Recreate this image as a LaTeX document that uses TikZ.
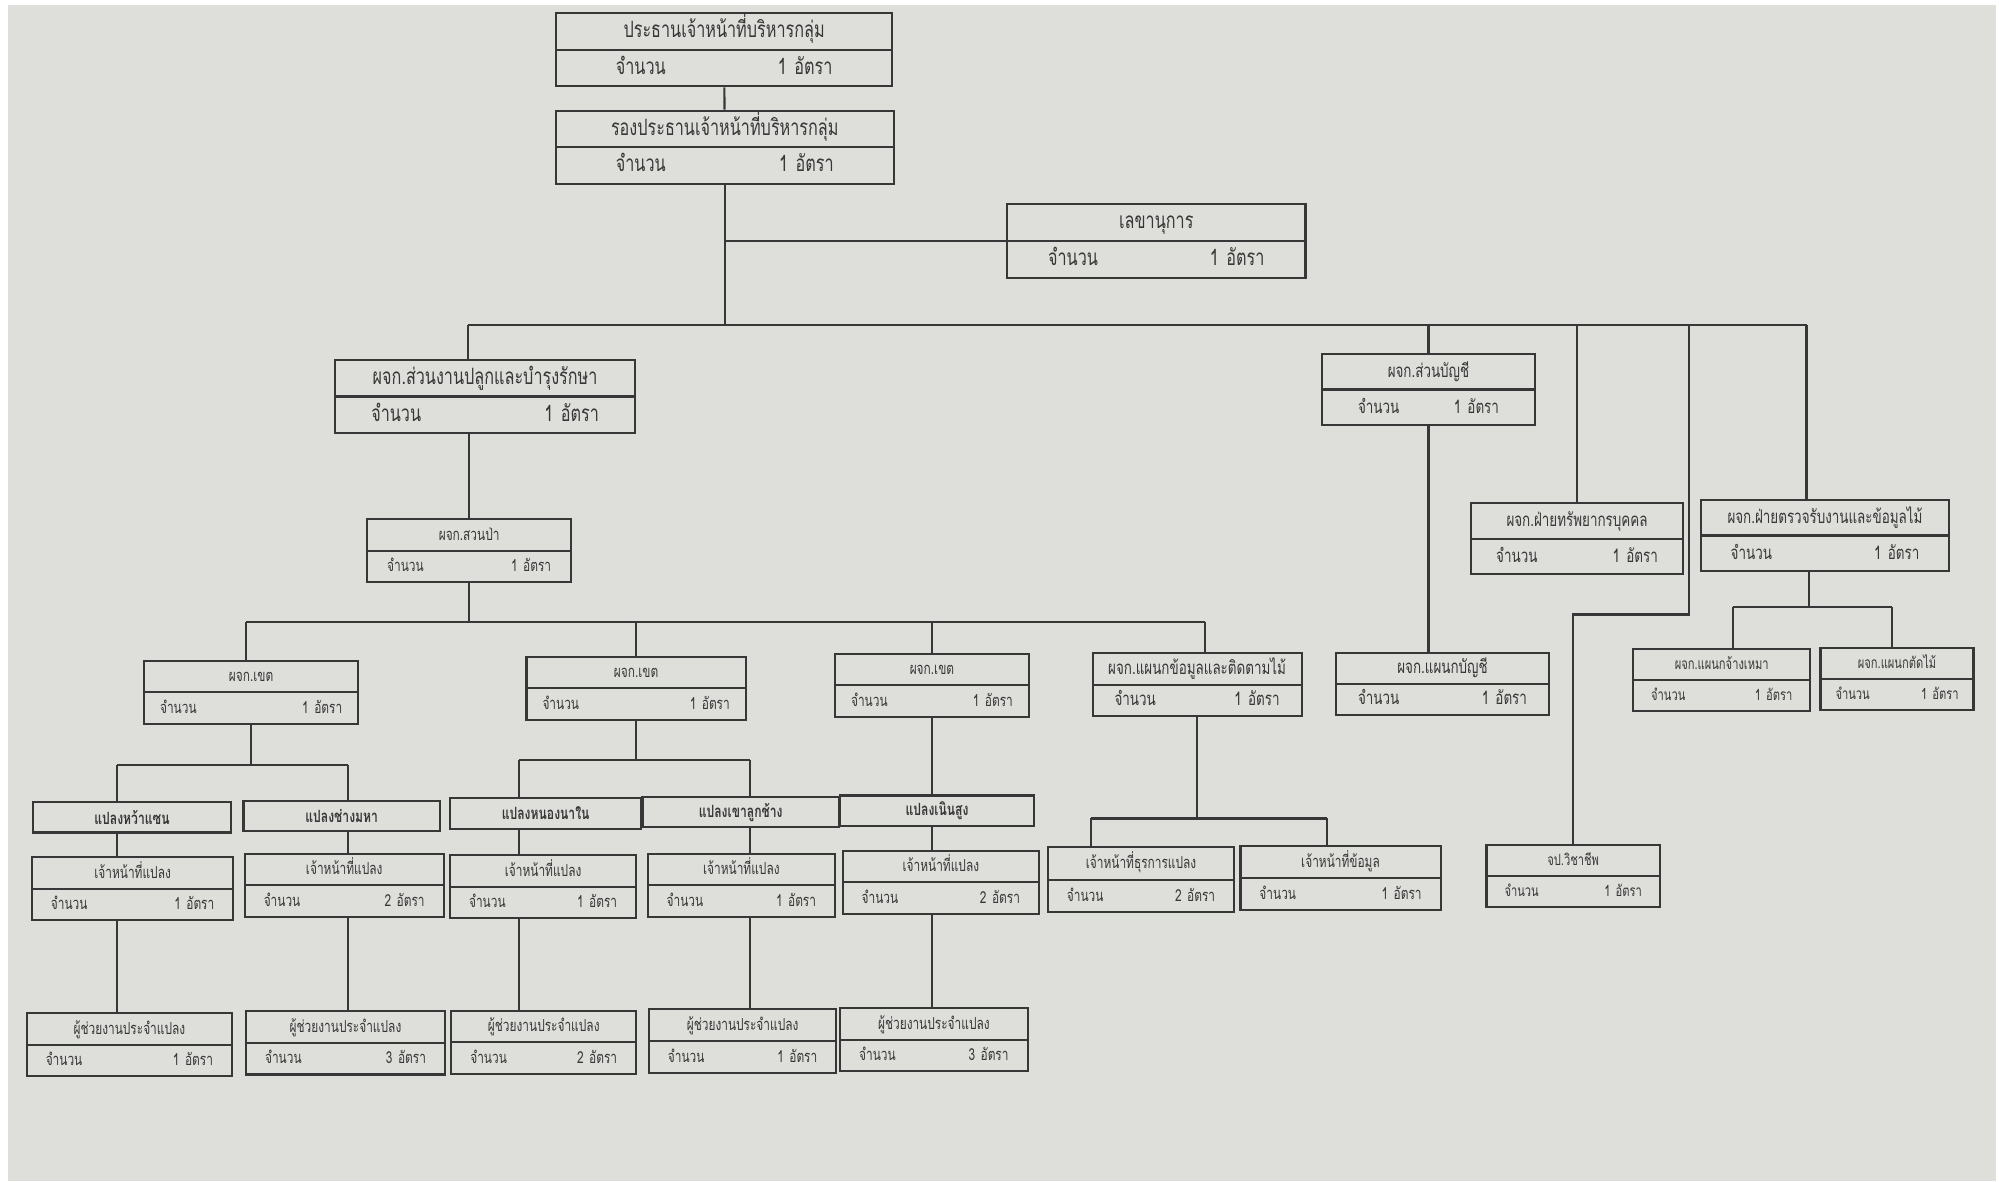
\documentclass[tikz,border=0pt]{standalone}
\usepackage{fontspec}
\usepackage{tikz}
\usetikzlibrary{shapes, positioning}
\newfontfamily\thai[Script=Thai, FakeStretch=0.72]{Loma}
\definecolor{paper}{RGB}{222,223,219}
\definecolor{ink}{RGB}{55,55,55}
\newlength\rowh
\setlength\rowh{3mm}
\newcommand\rs{\rule[-0.32\rowh]{0pt}{\rowh}}
\newcommand\cnt[2][1.8mm]{\rs\hbox to \hsize{\hskip #1\smash{จำนวน}\hfill\smash{#2 อัตรา}\hskip #1}}
\tikzset{rh/.code={\setlength\rowh{#1}}}
\tikzstyle{line} = [draw, ink, line width=0.6pt]
\tikzstyle{obox} = [rectangle split, rectangle split parts=2, draw=ink, line width=0.6pt, inner sep=0pt, align=center, text=ink]
\tikzstyle{bigbox} = [obox, rh=3.45mm, font=\thai\fontsize{6.4}{7}\selectfont]
\tikzstyle{midbox} = [obox, rh=3.35mm, font=\thai\fontsize{5.3}{6}\selectfont]
\tikzstyle{smallbox} = [obox, rh=2.95mm, font=\thai\fontsize{4.7}{5.5}\selectfont]
\tikzstyle{tinybox} = [obox, rh=2.9mm, font=\thai\fontsize{4.4}{5}\selectfont]
\tikzstyle{plotbox} = [draw=ink, line width=0.6pt, inner sep=0pt, minimum height=3.06mm, text=ink, font=\thai\bfseries\fontsize{4.8}{5.5}\selectfont]

\begin{document}
\begin{tikzpicture}[x=0.1275mm, y=-0.1275mm]
			\useasboundingbox (0,0) rectangle (1568,927);
			\fill [paper] (6,4) rectangle (1566,926);

			% top of the chart
			\node [bigbox, text width=264*0.1275mm] (ceo) at (568,39) {\rs\smash{ประธานเจ้าหน้าที่บริหารกลุ่ม}\nodepart{two}\cnt[6mm]{1}};
			\node [bigbox, text width=265*0.1275mm] (dep) at (568.5,115.5) {\rs\smash{รองประธานเจ้าหน้าที่บริหารกลุ่ม}\nodepart{two}\cnt[6mm]{1}};
			\node [bigbox, text width=234*0.1275mm] (sec) at (907,189) {\rs\smash{เลขานุการ}\nodepart{two}\cnt[4.1mm]{1}};
			\node [bigbox, text width=235*0.1275mm] (spn) at (380.5,311) {\rs\smash{ผจก.ส่วนงานปลูกและบำรุงรักษา}\nodepart{two}\cnt[3.6mm]{1}};
			\node [midbox, text width=167*0.1275mm] (spb) at (1120.5,305.5) {\rs\smash{ผจก.ส่วนบัญชี}\nodepart{two}\cnt[3.6mm]{1}};
			\node [midbox, text width=166*0.1275mm] (hr) at (1237,422.5) {\rs\smash{ผจก.ฝ่ายทรัพยากรบุคคล}\nodepart{two}\cnt[2.5mm]{1}};
			\node [midbox, text width=195*0.1275mm] (trb) at (1431.5,420) {\rs\smash{ผจก.ฝ่ายตรวจรับงานและข้อมูลไม้}\nodepart{two}\cnt[3mm]{1}};

			% middle level
			\node [smallbox, text width=160*0.1275mm] (sp) at (368,432) {\rs\smash{ผจก.สวนป่า}\nodepart{two}\cnt[2mm]{1}};
			\node [smallbox, text width=168*0.1275mm] (z1) at (197,543) {\rs\smash{ผจก.เขต}\nodepart{two}\cnt[1.6mm]{1}};
			\node [smallbox, text width=172*0.1275mm] (z2) at (499,540) {\rs\smash{ผจก.เขต}\nodepart{two}\cnt[1.6mm]{1}};
			\node [smallbox, text width=152*0.1275mm] (z3) at (731,537.5) {\rs\smash{ผจก.เขต}\nodepart{two}\cnt[1.6mm]{1}};
			\node [midbox, rh=2.95mm, text width=164*0.1275mm] (dat) at (939,537) {\rs\smash{ผจก.แผนกข้อมูลและติดตามไม้}\nodepart{two}\cnt[2.2mm]{1}};
			\node [midbox, rh=2.9mm, text width=167*0.1275mm] (acc) at (1131.5,536.5) {\rs\smash{ผจก.แผนกบัญชี}\nodepart{two}\cnt[2.2mm]{1}};
			\node [tinybox, text width=139*0.1275mm] (cm) at (1350.5,533.5) {\rs\smash{ผจก.แผนกจ้างเหมา}\nodepart{two}\cnt[1.8mm]{1}};
			\node [tinybox, text width=120*0.1275mm] (cut) at (1488,532.5) {\rs\smash{ผจก.แผนกตัดไม้}\nodepart{two}\cnt[1.5mm]{1}};
			\node [tinybox, text width=136*0.1275mm] (jp) at (1234,687) {\rs\smash{จป.วิชาชีพ}\nodepart{two}\cnt[1.8mm]{1}};

			% plots
			\node [plotbox, minimum width=155*0.1275mm] (p1) at (103.5,641) {แปลงหว้าแซน};
			\node [plotbox, minimum width=154*0.1275mm] (p2) at (268,640) {แปลงช่างมหา};
			\node [plotbox, minimum width=150*0.1275mm] (p3) at (428,638) {แปลงหนองนาใน};
			\node [plotbox, minimum width=154*0.1275mm] (p4) at (581,637) {แปลงเขาลูกช้าง};
			\node [plotbox, minimum width=152*0.1275mm] (p5) at (735,636) {แปลงเนินสูง};

			% plot staff
			\node [smallbox, text width=158*0.1275mm] (o1) at (104,697) {\rs\smash{เจ้าหน้าที่แปลง}\nodepart{two}\cnt[1.9mm]{1}};
			\node [smallbox, text width=156*0.1275mm] (o2) at (270,694.5) {\rs\smash{เจ้าหน้าที่แปลง}\nodepart{two}\cnt[1.9mm]{2}};
			\node [smallbox, text width=146*0.1275mm] (o3) at (426,695.5) {\rs\smash{เจ้าหน้าที่แปลง}\nodepart{two}\cnt[1.9mm]{1}};
			\node [smallbox, text width=147*0.1275mm] (o4) at (581.5,694.5) {\rs\smash{เจ้าหน้าที่แปลง}\nodepart{two}\cnt[1.9mm]{1}};
			\node [smallbox, text width=154*0.1275mm] (o5) at (738,692) {\rs\smash{เจ้าหน้าที่แปลง}\nodepart{two}\cnt[1.9mm]{2}};
			\node [smallbox, text width=161*0.1275mm] (a1) at (101.5,819.5) {\rs\smash{ผู้ช่วยงานประจำแปลง}\nodepart{two}\cnt[1.9mm]{1}};
			\node [smallbox, text width=156*0.1275mm] (a2) at (271,818) {\rs\smash{ผู้ช่วยงานประจำแปลง}\nodepart{two}\cnt[1.9mm]{3}};
			\node [smallbox, text width=145*0.1275mm] (a3) at (426.5,817.5) {\rs\smash{ผู้ช่วยงานประจำแปลง}\nodepart{two}\cnt[1.9mm]{2}};
			\node [smallbox, text width=147*0.1275mm] (a4) at (582.5,816.5) {\rs\smash{ผู้ช่วยงานประจำแปลง}\nodepart{two}\cnt[1.9mm]{1}};
			\node [smallbox, text width=147*0.1275mm] (a5) at (732.5,815.5) {\rs\smash{ผู้ช่วยงานประจำแปลง}\nodepart{two}\cnt[1.9mm]{3}};
			\node [smallbox, rh=3.05mm, text width=146*0.1275mm] (ad1) at (895,690) {\rs\smash{เจ้าหน้าที่ธุรการแปลง}\nodepart{two}\cnt[1.9mm]{2}};
			\node [smallbox, rh=3mm, text width=157*0.1275mm] (ad2) at (1051.5,688.5) {\rs\smash{เจ้าหน้าที่ข้อมูล}\nodepart{two}\cnt[1.9mm]{1}};

			% bus points
			\coordinate (aL) at (367,255);
			\coordinate (aR) at (1417,255);
			\coordinate (secj) at (568.5,189);
			\coordinate (jog) at (1325,482);
			\coordinate (bL) at (193,488);
			\coordinate (bR) at (945,488);
			\coordinate (cL) at (92,600);
			\coordinate (cR) at (273,600);
			\coordinate (dL) at (407,596);
			\coordinate (dR) at (588,596);
			\coordinate (eL) at (856,642);
			\coordinate (eR) at (1041,642);
			\coordinate (fM) at (1419,476);
			\coordinate (fL) at (1359,476);
			\coordinate (fR) at (1484,476);

			\path [line] (ceo) -- (dep);
			\path [line] (dep) -- (dep |- aL);
			\path [line] (secj) -- (sec);
			\path [line] (aL) -- (aR);
			\path [line] (aL) -- (aL |- spn.north);
			\path [line] (spb |- aL) -- (spb);
			\path [line] (hr |- aL) -- (hr);
			\path [line] (jog |- aL) -- (jog) -| (jp);
			\path [line] (aR) -- (aR |- trb.north);
			\path [line] (spb) -- (spb |- acc.north);
			\path [line] (sp |- spn.south) -- (sp);
			\path [line] (sp) -- (sp |- bL);
			\path [line] (bL) -- (bR);
			\path [line] (bL) -- (bL |- z1.north);
			\path [line] (z2 |- bL) -- (z2);
			\path [line] (z3 |- bL) -- (z3);
			\path [line] (bR) -- (bR |- dat.north);
			\path [line] (z1) -- (z1 |- cL);
			\path [line] (cL) -- (cR);
			\path [line] (cL) -- (cL |- p1.north);
			\path [line] (cR) -- (cR |- p2.north);
			\path [line] (z2) -- (z2 |- dL);
			\path [line] (dL) -- (dR);
			\path [line] (dL) -- (dL |- p3.north);
			\path [line] (dR) -- (dR |- p4.north);
			\path [line] (z3) -- (z3 |- p5.north);
			\path [line] (cL |- p1.south) -- (cL |- o1.north);
			\path [line] (cR |- p2.south) -- (cR |- o2.north);
			\path [line] (dL |- p3.south) -- (dL |- o3.north);
			\path [line] (dR |- p4.south) -- (dR |- o4.north);
			\path [line] (z3 |- p5.south) -- (z3 |- o5.north);
			\path [line] (cL |- o1.south) -- (cL |- a1.north);
			\path [line] (cR |- o2.south) -- (cR |- a2.north);
			\path [line] (dL |- o3.south) -- (dL |- a3.north);
			\path [line] (dR |- o4.south) -- (dR |- a4.north);
			\path [line] (z3 |- o5.south) -- (z3 |- a5.north);
			\path [line] (dat) -- (dat |- eL);
			\path [line] (eL) -- (eR);
			\path [line] (eL) -- (eL |- ad1.north);
			\path [line] (eR) -- (eR |- ad2.north);
			\path [line] (fM |- trb.south) -- (fM);
			\path [line] (fL) -- (fR);
			\path [line] (fL) -- (fL |- cm.north);
			\path [line] (fR) -- (fR |- cut.north);
		\end{tikzpicture}
\end{document}
